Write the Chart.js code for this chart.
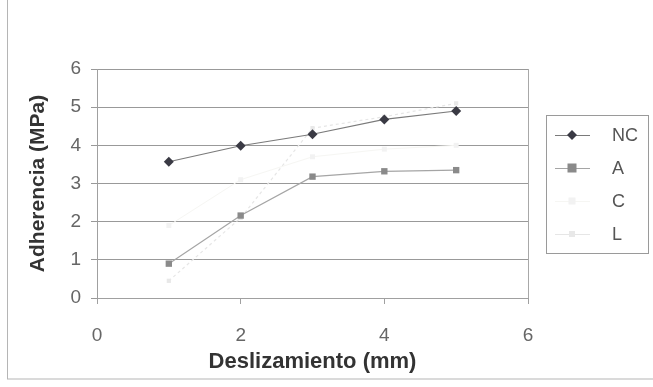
<!DOCTYPE html>
<html>
<head>
<meta charset="utf-8">
<script src="https://cdn.jsdelivr.net/npm/chart.js@4.4.1/dist/chart.umd.min.js"></script>
<style>
  html, body { margin: 0; padding: 0; background: #fff; }
  #wrap { width: 653px; height: 387px; position: relative; }
</style>
</head>
<body>
<div id="wrap"><canvas id="chart"></canvas></div>
<script>
const deslizamiento = [1, 2, 3, 4, 5];
const seriesNC = [3.57, 3.99, 4.29, 4.68, 4.9];
const seriesA = [0.9, 2.16, 3.18, 3.32, 3.35];
const seriesC = [1.9, 3.1, 3.7, 3.9, 4.0];
const seriesL = [0.45, 2.1, 4.45, 4.75, 5.1];
const seriesNames = ['NC', 'A', 'C', 'L'];
const xTicks = [0, 2, 4, 6];
const yTicks = [0, 1, 2, 3, 4, 5, 6];

const toPoints = (vals) => vals.map((v, i) => ({ x: deslizamiento[i], y: v }));

// borders of the figure, plot area and the hand-made legend
const framePlugin = {
  id: 'frame',
  beforeDraw(chart) {
    const ctx = chart.ctx;
    ctx.save();
    ctx.fillStyle = '#fff';
    ctx.fillRect(0, 0, chart.width, chart.height);
    ctx.strokeStyle = '#b5b5b5';
    ctx.lineWidth = 1;
    ctx.strokeRect(7.5, -2, chart.width + 4, 381);
    ctx.restore();
  },
  afterDraw(chart) {
    const ctx = chart.ctx;
    const a = chart.chartArea;
    ctx.save();
    ctx.strokeStyle = '#a8a8a8';
    ctx.lineWidth = 1;
    ctx.beginPath();
    ctx.moveTo(Math.round(a.right) + 0.5, a.top);
    ctx.lineTo(Math.round(a.right) + 0.5, a.bottom);
    ctx.stroke();

    // legend
    const lx = 546, ly = 115, lw = 102, lh = 138;
    ctx.strokeStyle = '#9a9a9a';
    ctx.strokeRect(lx + 0.5, ly + 0.5, lw, lh);
    ctx.font = '18px "Liberation Sans", Arial, sans-serif';
    ctx.textBaseline = 'middle';
    chart.data.datasets.forEach((ds, i) => {
      const y = ly + 20 + i * 33;
      ctx.strokeStyle = ds.borderColor;
      ctx.lineWidth = 1;
      ctx.beginPath();
      ctx.moveTo(555, y + 0.5);
      ctx.lineTo(590, y + 0.5);
      ctx.stroke();
      ctx.fillStyle = ds.pointBackgroundColor;
      const r = ds.pointRadius;
      if (ds.pointStyle === 'rectRot') {
        ctx.beginPath();
        ctx.moveTo(572, y - r); ctx.lineTo(572 + r, y);
        ctx.lineTo(572, y + r); ctx.lineTo(572 - r, y);
        ctx.closePath(); ctx.fill();
      } else {
        ctx.fillRect(572 - r, y - r, 2 * r, 2 * r);
      }
      ctx.fillStyle = '#555';
      ctx.fillText(ds.label, 612, y + 1);
    });
    ctx.restore();
  }
};

new Chart(document.getElementById('chart'), {
  type: 'scatter',
  data: {
    datasets: [
      { label: seriesNames[0], data: toPoints(seriesNC), showLine: true,
        borderColor: '#7a7a7a', borderWidth: 1.2, pointStyle: 'rectRot',
        pointRadius: 5, pointBackgroundColor: '#3a3a44', pointBorderWidth: 0 },
      { label: seriesNames[1], data: toPoints(seriesA), showLine: true,
        borderColor: '#a5a5a5', borderWidth: 1.2, pointStyle: 'rect',
        pointRadius: 4.5, pointBackgroundColor: '#8a8a8a', pointBorderWidth: 0 },
      { label: seriesNames[2], data: toPoints(seriesC), showLine: true,
        borderColor: '#f6f6f3', borderWidth: 1, pointStyle: 'rect',
        pointRadius: 3.5, pointBackgroundColor: '#f2f2f2', pointBorderWidth: 0 },
      { label: seriesNames[3], data: toPoints(seriesL), showLine: true,
        borderColor: '#e6e6e6', borderWidth: 1.2, borderDash: [3, 3], pointStyle: 'rect',
        pointRadius: 3, pointBackgroundColor: '#e8e8e8', pointBorderWidth: 0 }
    ]
  },
  options: {
    responsive: true,
    maintainAspectRatio: false,
    animation: false,
    layout: { padding: { left: 0, top: 69, right: 125, bottom: 0 } },
    plugins: {
      legend: { display: false },
      tooltip: { enabled: false }
    },
    scales: {
      x: {
        type: 'linear', min: 0, max: 6,
        afterBuildTicks: (s) => { s.ticks = xTicks.map(v => ({ value: v })); },
        afterFit: (s) => { s.height = 89; },
        grid: { drawOnChartArea: false, color: '#a0a0a0', tickLength: 6 },
        border: { color: '#a0a0a0' },
        ticks: { color: '#666', padding: 20, font: { family: '"Liberation Sans", Arial', size: 19 } },
        title: { display: true, text: 'Deslizamiento (mm)', color: '#333',
          padding: { top: 0, bottom: 12 },
          font: { family: '"Liberation Sans", Arial', size: 22, weight: 'bold' } }
      },
      y: {
        min: 0, max: 6,
        afterBuildTicks: (s) => { s.ticks = yTicks.map(v => ({ value: v })); },
        afterFit: (s) => { s.width = 97; },
        grid: { color: '#999', tickLength: 6 },
        border: { color: '#a0a0a0' },
        ticks: { color: '#666', padding: 10, font: { family: '"Liberation Sans", Arial', size: 19 } },
        title: { display: true, text: 'Adherencia (MPa)', color: '#333',
          padding: { top: 26, bottom: 0 },
          font: { family: '"Liberation Sans", Arial', size: 21, weight: 'bold' } }
      }
    }
  },
  plugins: [framePlugin]
});
</script>
</body>
</html>
